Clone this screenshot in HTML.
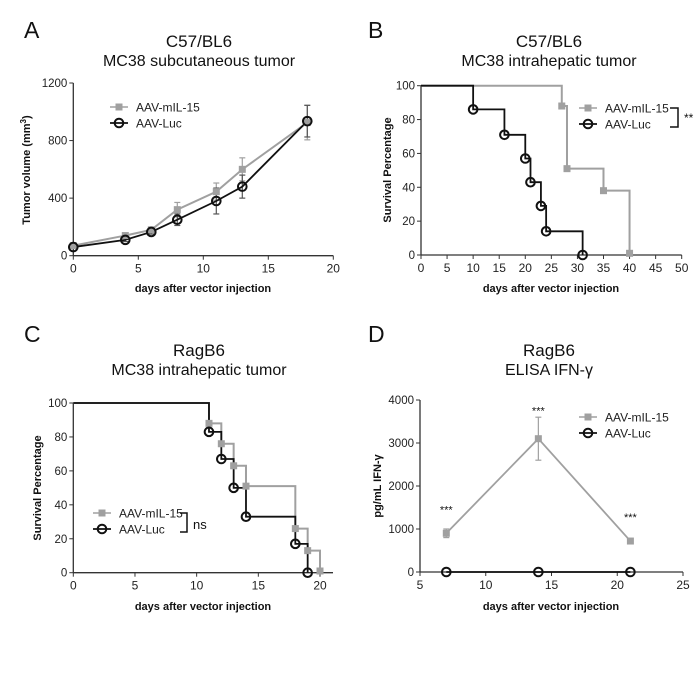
<!DOCTYPE html>
<html><head><meta charset="utf-8"><style>
body{margin:0;background:#fff;width:700px;height:692px;overflow:hidden}
svg{font-family:"Liberation Sans",Arial,sans-serif}
</style></head><body>
<svg id="fig" width="700" height="692" viewBox="0 0 700 692" xmlns="http://www.w3.org/2000/svg"></svg>
<script>
// Panel A data
const aDays=[0,4,6,8,11,13,18];
const aIL15=[70,140,180,320,445,600,925];
const aIL15Err=[10,15,15,50,60,80,120];
const aLuc=[60,110,165,250,380,480,935];
const aLucErr=[8,12,15,40,90,80,110];
const aYTicks=[0,400,800,1200];
const aXTicks=[0,5,10,15,20];
// Panel B data
const bIL15Days=[0,27,28,35,40];
const bIL15Surv=[100,88,51,38,0];
const bLucDays=[0,10,16,20,21,23,24,31];
const bLucSurv=[100,86,71,57,43,29,14,0];
const bXTicks=[0,5,10,15,20,25,30,35,40,45,50];
const bYTicks=[0,20,40,60,80,100];
// Panel C data
const cIL15Days=[0,11,12,13,14,18,19,20];
const cIL15Surv=[100,88,76,63,51,26,13,0];
const cLucDays=[0,11,12,13,14,18,19];
const cLucSurv=[100,83,67,50,33,17,0];
const cXTicks=[0,5,10,15,20];
const cYTicks=[0,20,40,60,80,100];
// Panel D data
const dDays=[7,14,21];
const dIL15=[900,3100,720];
const dIL15Err=[100,500,40];
const dLuc=[0,0,0];
const dXTicks=[5,10,15,20,25];
const dYTicks=[0,1000,2000,3000,4000];

const svg=document.getElementById('fig');
const NS='http://www.w3.org/2000/svg';
function el(tag,attrs,parent){const e=document.createElementNS(NS,tag);for(const k in attrs)e.setAttribute(k,attrs[k]);(parent||svg).appendChild(e);return e;}
function txt(s,attrs,parent){const e=el('text',attrs,parent);e.textContent=s;return e;}
function lin(d0,d1,r0,r1){return v=>r0+(v-d0)/(d1-d0)*(r1-r0);}
const GRAY='#a0a0a0';

function axes(g,x,y,xTicks,yTicks,x0,x1,y0,y1){
  el('line',{x1:x0,y1:y0,x2:x0,y2:y1,stroke:'#333','stroke-width':1.3},g);
  el('line',{x1:x0,y1:y0,x2:x1,y2:y0,stroke:'#333','stroke-width':1.3},g);
  xTicks.forEach(t=>{el('line',{x1:x(t),y1:y0,x2:x(t),y2:y0+4,stroke:'#333'},g);
    const l=txt(String(t),{x:x(t),y:y0+17,'font-size':12,'text-anchor':'middle',fill:'#222'},g);
    });
  yTicks.forEach(t=>{el('line',{x1:x0-4,y1:y(t),x2:x0,y2:y(t),stroke:'#333'},g);
    const l=txt(String(t),{x:x0-6,y:y(t)+4,'font-size':11.5,'text-anchor':'end',fill:'#222'},g);
    });
}
function titles(g,cx,t1,t2,by){
  const a=txt(t1,{x:cx,y:by,'font-size':17,'text-anchor':'middle',fill:'#111'},g);
  const b=txt(t2,{x:cx,y:by+19,'font-size':16,'text-anchor':'middle',fill:'#111'},g);
}
function labels(g,xl,xlx,xly,yl,ylx,yly){
  const a=txt(xl,{x:xlx,y:xly,'font-size':11,'font-weight':'bold','text-anchor':'middle',fill:'#111'},g);
  if(yl){const b=txt(yl,{x:0,y:0,'font-size':11,'font-weight':'bold','text-anchor':'middle',fill:'#111',transform:`translate(${ylx},${yly}) rotate(-90)`},g);}
}
function sq(g,cx,cy){const r=el('rect',{x:cx-3.5,y:cy-3.5,width:7,height:7,fill:GRAY},g);}
function circ(g,cx,cy){const c=el('circle',{cx:cx,cy:cy,r:4.3,fill:'none',stroke:'#111','stroke-width':2},g);}
function legend(g,lx,ly){
  const le=el('g',{},g);
  el('line',{x1:lx-9,y1:ly,x2:lx+9,y2:ly,stroke:GRAY,'stroke-width':1.5},le);sq(le,lx,ly);
  txt('AAV-mIL-15',{x:lx+17,y:ly+4.5,'font-size':12,fill:'#222'},le);
  el('line',{x1:lx-9,y1:ly+16,x2:lx+9,y2:ly+16,stroke:'#111','stroke-width':1.8},le);circ(le,lx,ly+16);
  txt('AAV-Luc',{x:lx+17,y:ly+20.5,'font-size':12,fill:'#222'},le);
}
function panelLetter(s,x,y){const t=txt(s,{x:x,y:y,'font-size':23,fill:'#111'});}
function step(g,x,y,days,vals,color,w){
  let d=`M${x(days[0])},${y(vals[0])}`;
  for(let i=1;i<days.length;i++){d+=` H${x(days[i])} V${y(vals[i])}`;}
  return el('path',{d:d,fill:'none',stroke:color,'stroke-width':w},g);
}
function poly(g,x,y,days,vals,color,w){
  return el('polyline',{points:days.map((d,i)=>x(d)+','+y(vals[i])).join(' '),fill:'none',stroke:color,'stroke-width':w},g);
}
function errs(g,x,y,days,vals,e,color){
  days.forEach((d,i)=>{const X=x(d);el('line',{x1:X,y1:y(vals[i]-e[i]),x2:X,y2:y(vals[i]+e[i]),stroke:color,'stroke-width':1.2},g);
    [vals[i]-e[i],vals[i]+e[i]].forEach(v=>el('line',{x1:X-3,y1:y(v),x2:X+3,y2:y(v),stroke:color,'stroke-width':1.2},g));});
}

// Panel A
(function(){
  const g=el('g',{});
  panelLetter('A',24,38);
  const x=lin(0,20,73.3,333.3),y=lin(0,1200,255.7,83);
  titles(g,199,'C57/BL6','MC38 subcutaneous tumor',47);
  axes(g,x,y,aXTicks,aYTicks,73.3,333.3,255.7,83);
  labels(g,'days after vector injection',203,292,'',28,170);
  const yl=txt('Tumor volume (mm',{x:0,y:0,'font-size':11,'font-weight':'bold','text-anchor':'middle',fill:'#111',transform:'translate(30,170) rotate(-90)'},g);
  
  const sup=el('tspan',{'baseline-shift':'super','font-size':8},yl);sup.textContent='3';
  const cl=el('tspan',{},yl);cl.textContent=')';
  errs(g,x,y,aDays,aIL15,aIL15Err,GRAY);
  errs(g,x,y,aDays,aLuc,aLucErr,'#555');
  const p1=poly(g,x,y,aDays,aIL15,GRAY,2);
  const p2=poly(g,x,y,aDays,aLuc,'#111',1.8);
  aDays.forEach((d,i)=>sq(g,x(d),y(aIL15[i])));
  aDays.forEach((d,i)=>circ(g,x(d),y(aLuc[i])));
  legend(g,119,107);
})();

// Panel B
(function(){
  const g=el('g',{});
  panelLetter('B',368,38);
  const x=lin(0,50,421,681.7),y=lin(0,100,255,85.7);
  titles(g,549,'C57/BL6','MC38 intrahepatic tumor',47);
  axes(g,x,y,bXTicks,bYTicks,421,681.7,255,85.7);
  labels(g,'days after vector injection',551,292,'Survival Percentage',391,170);
  const p1=step(g,x,y,bIL15Days,bIL15Surv,GRAY,2);
  const p2=step(g,x,y,bLucDays,bLucSurv,'#111',1.8);
  bIL15Days.slice(1).forEach((d,i)=>sq(g,x(d),y(Math.max(bIL15Surv[i+1],1))));
  bLucDays.slice(1).forEach((d,i)=>circ(g,x(d),y(bLucSurv[i+1])));
  legend(g,588,108);
  el('path',{d:'M670,108 H678 V127 H670',fill:'none',stroke:'#111','stroke-width':1.5},g);
  const s=txt('**',{x:684,y:122,'font-size':12,fill:'#111'},g);
})();

// Panel C
(function(){
  const g=el('g',{});
  panelLetter('C',24,342);
  const x=lin(0,20,73.3,320),y=lin(0,100,572.7,403);
  titles(g,199,'RagB6','MC38 intrahepatic tumor',356);
  axes(g,x,y,cXTicks,cYTicks,73.3,333,572.7,403);
  labels(g,'days after vector injection',203,610,'Survival Percentage',41,488);
  const p1=step(g,x,y,cIL15Days,cIL15Surv,GRAY,2);
  const p2=step(g,x,y,cLucDays,cLucSurv,'#111',1.8);
  cIL15Days.slice(1).forEach((d,i)=>sq(g,x(d),y(Math.max(cIL15Surv[i+1],1))));
  cLucDays.slice(1).forEach((d,i)=>circ(g,x(d),y(cLucSurv[i+1])));
  legend(g,102,513);
  el('path',{d:'M180,513 H187 V532 H180',fill:'none',stroke:'#111','stroke-width':1.5},g);
  const s=txt('ns',{x:193,y:529,'font-size':13,fill:'#111'},g);
})();

// Panel D
(function(){
  const g=el('g',{});
  panelLetter('D',368,342);
  const x=lin(5,25,420,683),y=lin(0,4000,572,400);
  titles(g,549,'RagB6','ELISA IFN-γ',356);
  axes(g,x,y,dXTicks,dYTicks,420,683,572,400);
  labels(g,'days after vector injection',551,610,'pg/mL IFN-γ',381,486);
  errs(g,x,y,dDays,dIL15,dIL15Err,GRAY);
  const p1=poly(g,x,y,dDays,dIL15,GRAY,1.8);
  const p2=poly(g,x,y,dDays,dLuc,'#111',1.8);
  dDays.forEach((d,i)=>sq(g,x(d),y(dIL15[i])));
  dDays.forEach((d,i)=>circ(g,x(d),y(dLuc[i])));
  const starY=[dIL15[0]+600,dIL15[1]+700,dIL15[2]+600];
  dDays.forEach((d,i)=>{const s=txt('***',{x:x(d),y:y(starY[i])+6,'font-size':11,'text-anchor':'middle',fill:'#111'},g);
    });
  legend(g,588,417);
})();
</script>
</body></html>
